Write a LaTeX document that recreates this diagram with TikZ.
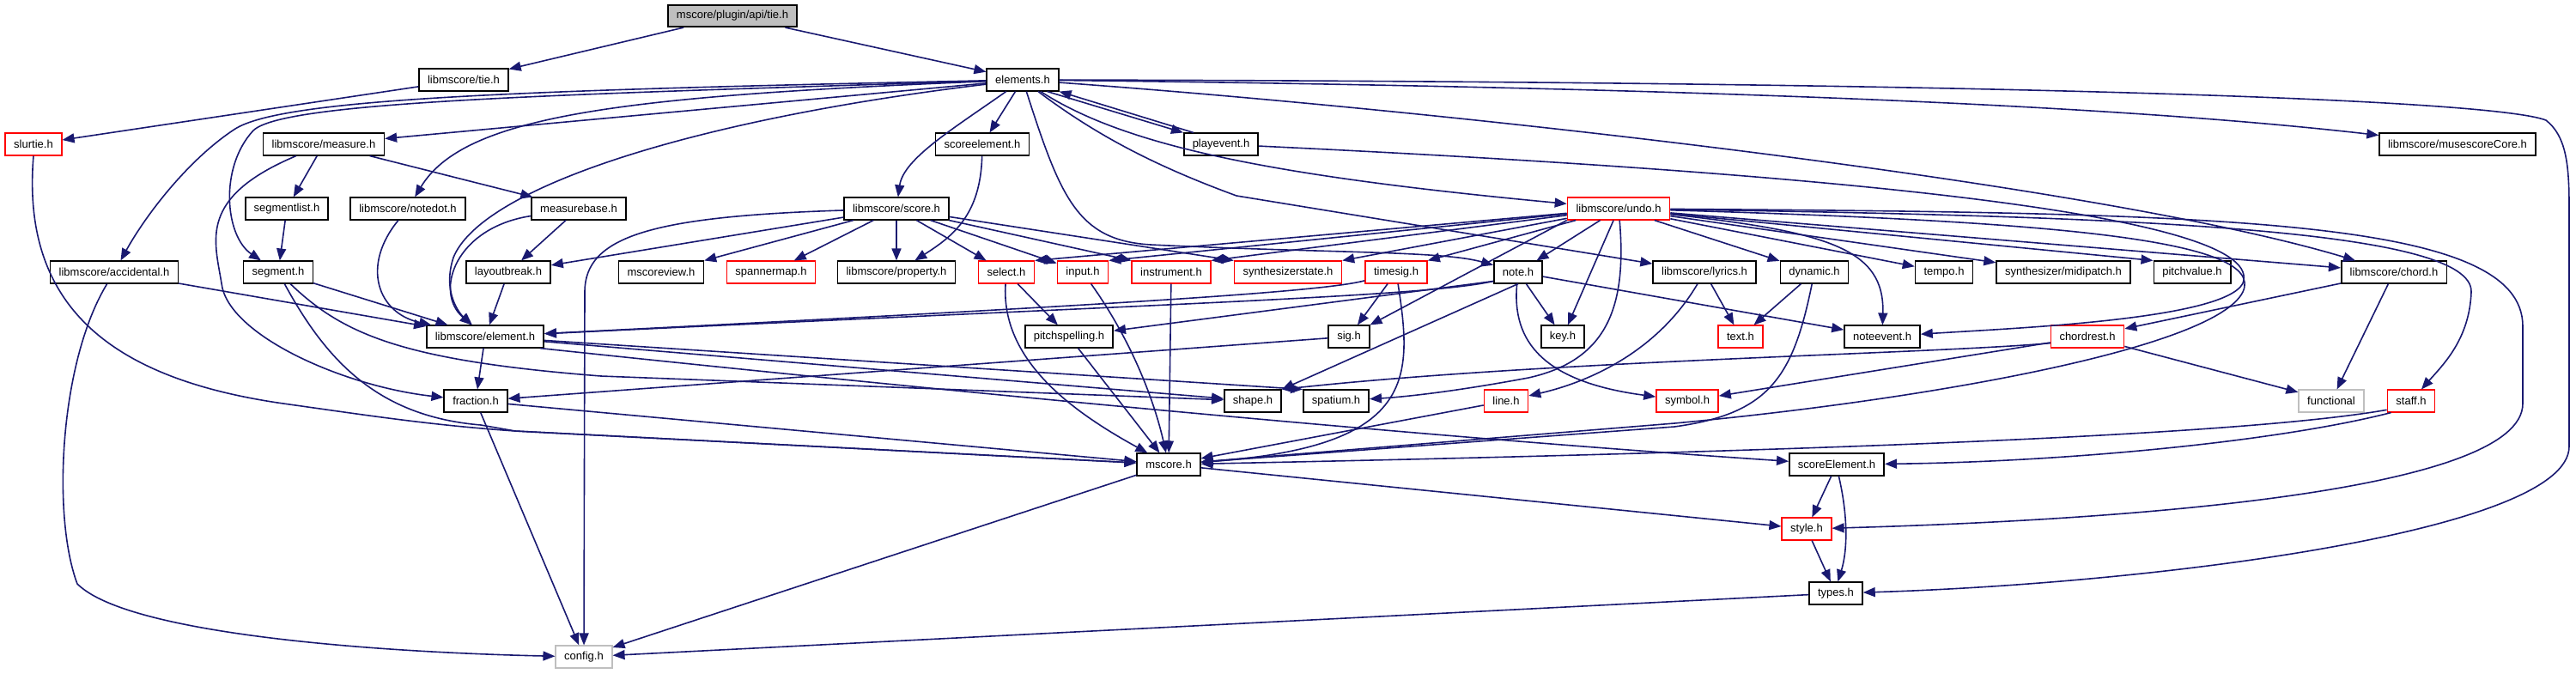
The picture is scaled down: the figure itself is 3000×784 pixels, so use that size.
\documentclass[tikz,border=0pt]{standalone}
\usepackage{fontspec}
\setmainfont{Liberation Sans}
\usetikzlibrary{arrows.meta}
\definecolor{edgeblue}{RGB}{25,25,112}
\definecolor{boxgrey}{RGB}{191,191,191}

\begin{document}
\begin{tikzpicture}[x=0.5pt,y=-0.5pt,line width=0.8pt,>={Triangle[length=7pt,width=5.5pt]},
  hdr/.style={draw=black,fill=white,line width=0.8pt,inner xsep=5pt,inner ysep=0pt,
    minimum height=12.75pt,font=\fontsize{6.5}{7}\selectfont},
  trunc/.style={hdr,draw=red},
  sys/.style={hdr,draw=boxgrey},
  dep/.style={->,draw=edgeblue,line width=0.8pt}]
  \useasboundingbox (0,0) rectangle (3000,784);

  \node[hdr,fill=boxgrey] (apitie) at (853,18.5) {mscore/plugin/api/tie.h};
  \node[hdr] (tie) at (540,93) {libmscore/tie.h};
  \node[hdr] (elements) at (1191,93) {elements.h};
  \node[trunc] (slurtie) at (39,168) {slurtie.h};
  \node[hdr] (measure) at (377,168) {libmscore/measure.h};
  \node[hdr] (scoreelem) at (1144,168) {scoreelement.h};
  \node[hdr] (playevent) at (1422,168) {playevent.h};
  \node[hdr] (mscorecore) at (2862,168) {libmscore/musescoreCore.h};
  \node[hdr] (segmentlist) at (334,243) {segmentlist.h};
  \node[hdr] (notedot) at (475,243) {libmscore/notedot.h};
  \node[hdr] (measurebase) at (674,243) {measurebase.h};
  \node[hdr] (score) at (1044,243) {libmscore/score.h};
  \node[trunc] (undo) at (1885,243) {libmscore/undo.h};
  \node[hdr] (accidental) at (133,317) {libmscore/accidental.h};
  \node[hdr] (segment) at (324,317) {segment.h};
  \node[hdr] (layoutbreak) at (592,317) {layoutbreak.h};
  \node[hdr] (mscoreview) at (770,317) {mscoreview.h};
  \node[trunc] (spannermap) at (898,317) {spannermap.h};
  \node[hdr] (property) at (1044,317) {libmscore/property.h};
  \node[trunc] (select) at (1172,317) {select.h};
  \node[trunc] (input) at (1261,317) {input.h};
  \node[trunc] (instrument) at (1364,317) {instrument.h};
  \node[trunc] (synthstate) at (1500,317) {synthesizerstate.h};
  \node[trunc] (timesig) at (1626,317) {timesig.h};
  \node[hdr] (note) at (1768,317) {note.h};
  \node[hdr] (lyrics) at (1985,317) {libmscore/lyrics.h};
  \node[hdr] (dynamic) at (2113,317) {dynamic.h};
  \node[hdr] (tempo) at (2264,317) {tempo.h};
  \node[hdr] (midipatch) at (2403,317) {synthesizer/midipatch.h};
  \node[hdr] (pitchvalue) at (2553,317) {pitchvalue.h};
  \node[hdr] (chord) at (2788,317) {libmscore/chord.h};
  \node[hdr] (element) at (565,392) {libmscore/element.h};
  \node[hdr] (pitchspelling) at (1245,392) {pitchspelling.h};
  \node[hdr] (sig) at (1571,392) {sig.h};
  \node[hdr] (key) at (1820,392) {key.h};
  \node[trunc] (text) at (2027,392) {text.h};
  \node[hdr] (noteevent) at (2192,392) {noteevent.h};
  \node[trunc] (chordrest) at (2431,392) {chordrest.h};
  \node[hdr] (fraction) at (554,467) {fraction.h};
  \node[hdr] (shape) at (1459,467) {shape.h};
  \node[hdr] (spatium) at (1556,467) {spatium.h};
  \node[trunc] (line) at (1754,467) {line.h};
  \node[trunc] (symbol) at (1965,467) {symbol.h};
  \node[sys] (functional) at (2715,467) {functional};
  \node[trunc] (staff) at (2808,467) {staff.h};
  \node[hdr] (mscore) at (1361,541) {mscore.h};
  \node[hdr] (scoreElement) at (2139,541) {scoreElement.h};
  \node[trunc] (style) at (2104,616) {style.h};
  \node[hdr] (types) at (2138,691) {types.h};
  \node[sys] (config) at (680,765) {config.h};

  \foreach \a/\b in {apitie/tie,apitie/elements,tie/slurtie,elements/scoreelem,elements/measure,
     measure/segmentlist,measure/measurebase,segmentlist/segment,measurebase/layoutbreak,
     layoutbreak/element,accidental/element,segment/element,score/layoutbreak,score/mscoreview,
     score/spannermap,score/property,score/select,score/input,undo/note,undo/key,undo/dynamic,
     undo/tempo,undo/midipatch,undo/chord,element/fraction,element/shape,
     select/pitchspelling,instrument/mscore,pitchspelling/mscore,timesig/sig,note/key,
     note/noteevent,sig/fraction,lyrics/text,dynamic/text,line/mscore,chord/chordrest,
     chord/functional,chordrest/symbol,chordrest/functional,fraction/config,fraction/mscore,
     mscore/config,mscore/style,scoreElement/style,style/types,types/config}
     \draw[dep] (\a) -- (\b);

  \draw[dep] (score) -- (instrument.north west);
  \draw[dep] (score) -- (synthstate.north west);
  \draw[dep] (undo) -- (select.north east);
  \draw[dep] (undo) -- (input.north east);
  \draw[dep] (undo) -- (instrument.north east);
  \draw[dep] (undo) -- (synthstate.north east);
  \draw[dep] (undo) -- (timesig.north east);
  \draw[dep] (undo) -- (pitchvalue.north west);
  \draw[dep] (undo.south west) -- (sig.north east);
  \draw[dep] (note.200) -- (pitchspelling);
  \draw[dep] (note.south) -- (shape.north east);
  \draw[dep] (element) -- (spatium.north west);
  \draw[dep] ([xshift=-7pt]elements.south east) -- (playevent.north west);
  \draw[dep] ([xshift=6pt]playevent.north west) -- (elements.south east);

  \draw[dep] (slurtie.south) .. controls (25,350) and (120,440) .. (330,470)
     .. controls (430,484) and (500,495) .. (600,502) -- (mscore);
  \draw[dep] (elements) .. controls (600,105) and (330,115) .. (274,150)
     .. controls (220,185) and (170,250) .. (accidental);
  \draw[dep] (elements) .. controls (650,110) and (330,118) .. (295,152)
     .. controls (255,195) and (262,275) .. (segment);
  \draw[dep] (elements) .. controls (720,112) and (540,135) .. (notedot);
  \draw[dep] (elements) .. controls (800,140) and (560,220) .. (528,300)
     .. controls (515,340) and (535,365) .. (element);
  \draw[dep] (elements) .. controls (1110,150) and (1052,185) .. (score);
  \draw[dep] (elements) .. controls (1310,170) and (1480,205) .. (undo);
  \draw[dep] (elements) .. controls (1235,230) and (1255,280) .. (1340,285)
     .. controls (1550,295) and (1680,292) .. (note);
  \draw[dep] (elements) .. controls (1280,160) and (1350,195) .. (1440,228) -- (lyrics);
  \draw[dep] (elements) .. controls (1700,130) and (2450,215) .. (chord);
  \draw[dep] (elements) .. controls (1800,100) and (2400,115) .. (mscorecore);
  \draw[dep] (elements) .. controls (2300,95) and (2900,115) .. (2965,140)
     .. controls (2988,158) and (2992,190) .. (2992,240) -- (2992,520)
     .. controls (2992,620) and (2500,680) .. (types);
  \draw[dep] (playevent) .. controls (2200,205) and (2640,255) .. (2612,330)
     .. controls (2590,372) and (2350,382) .. (noteevent);
  \draw[dep] (measure) .. controls (230,230) and (250,280) .. (258,330)
     .. controls (265,390) and (400,450) .. (fraction);
  \draw[dep] (segment) .. controls (380,420) and (440,485) .. (560,495) -- (600,502) -- (mscore);
  \draw[dep] (segment) .. controls (400,390) and (470,420) .. (700,438) -- (shape);
  \draw[dep] (notedot) .. controls (420,310) and (440,365) .. (element);
  \draw[dep] (measurebase) .. controls (530,265) and (505,340) .. (element);
  \draw[dep] (accidental) .. controls (70,420) and (60,600) .. (90,680)
     .. controls (150,740) and (450,760) .. (config);
  \draw[dep] (score) .. controls (760,252) and (681,275) .. (681,340) -- (config);
  \draw[dep] (scoreelem) .. controls (1142,250) and (1110,275) .. (property);
  \draw[dep] (undo) .. controls (2130,270) and (2195,290) .. (noteevent);
  \draw[dep] (undo) .. controls (2500,252) and (2880,268) .. (2878,340)
     .. controls (2876,395) and (2845,425) .. (staff);
  \draw[dep] (undo) .. controls (2600,248) and (2938,255) .. (2938,380) -- (2938,470)
     .. controls (2938,570) and (2500,605) .. (style);
  \draw[dep] (undo) .. controls (2400,258) and (2640,280) .. (2612,340)
     .. controls (2580,405) and (2250,465) .. (1950,493) -- (mscore);
  \draw[dep] (undo) .. controls (1895,360) and (1870,420) .. (1780,440)
     .. controls (1700,455) and (1640,462) .. (spatium);
  \draw[dep] (dynamic) .. controls (2088,440) and (2060,482) .. (1950,497) -- (mscore);
  \draw[dep] (lyrics) .. controls (1930,410) and (1850,445) .. (line);
  \draw[dep] (note) .. controls (1760,400) and (1800,445) .. (symbol);
  \draw[dep] (note.200) .. controls (1660,345) and (1400,352) .. (element);
  \draw[dep] (timesig.195) .. controls (1540,340) and (1300,355) .. (element);
  \draw[dep] (element.-12) .. controls (1000,445) and (1600,505) .. (scoreElement);
  \draw[dep] (chordrest.190) .. controls (2250,412) and (1800,420) .. (shape.north east);
  \draw[dep] (staff.200) .. controls (2650,500) and (2300,522) .. (mscore);
  \draw[dep] (staff.210) .. controls (2650,515) and (2400,538) .. (scoreElement);
  \draw[dep] (scoreElement.-80) .. controls (2152,600) and (2152,640) .. (types.80);
  \draw[dep] (select) .. controls (1165,420) and (1250,480) .. (mscore);
  \draw[dep] (input) .. controls (1320,400) and (1345,470) .. (mscore);
  \draw[dep] (timesig) .. controls (1645,440) and (1650,520) .. (mscore);
\end{tikzpicture}
\end{document}
